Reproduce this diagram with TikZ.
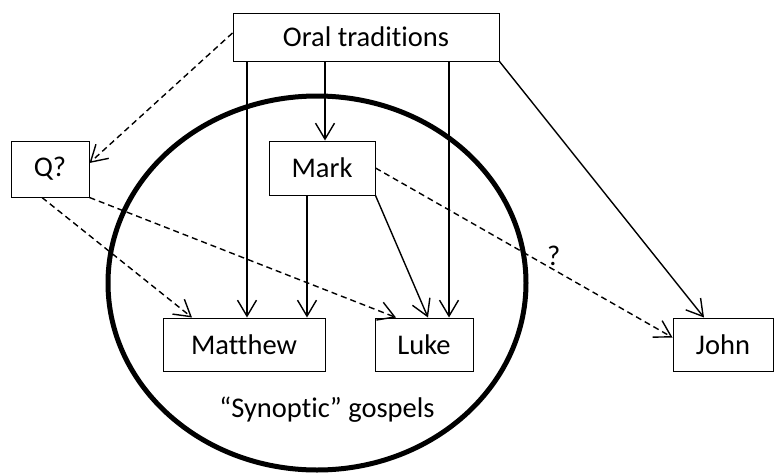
\documentclass[tikz,border=0pt]{standalone}
\usepackage{fontspec}
\setmainfont{Carlito}[Ligatures=NoCommon]
\usetikzlibrary{arrows.meta}
\def\ring{(317,283) ellipse [x radius=209, y radius=187]}

\begin{document}
\begin{tikzpicture}[x=1pt, y=-1pt, line width=1.4pt,
	box/.style={draw, line width=1pt, inner sep=0pt, font=\fontsize{28.5}{34}\selectfont},
	arr/.style={-{Straight Barb[length=16pt, width=19pt]}},
	guess/.style={arr, dash pattern=on 6pt off 4pt}]
	\useasboundingbox (0,0) rectangle (774,472);
	\draw [line width=5pt] \ring;
	\node [box, minimum width=266, minimum height=48] (oral) at (366,37) {Oral traditions};
	\node [box, minimum width=78, minimum height=56] (q) at (50,169) {Q?};
	\node [box, minimum width=106, minimum height=54] (mark) at (322,168) {Mark};
	\node [box, minimum width=162, minimum height=53] (matthew) at (244,344.5) {Matthew};
	\node [box, minimum width=98, minimum height=53] (luke) at (424,344.5) {Luke};
	\node [box, minimum width=100, minimum height=53] (john) at (723,344.5) {John};
	\node [font=\fontsize{28.5}{34}\selectfont] (synoptic) at (327,410) {“Synoptic” gospels};
%	oral traditions
	\draw [guess] ([yshift=4]oral.west) -- ([yshift=6]q.east);
	\draw [arr] ([xshift=3]matthew.north |- oral.south) -- ([xshift=3]matthew.north);
	\draw [arr] ([xshift=3]mark.north |- oral.south) -- ([xshift=3]mark.north);
	\draw [arr] ([xshift=25]luke.north |- oral.south) -- ([xshift=25]luke.north);
	\draw [arr] (oral.south east) -- ([xshift=-19]john.north);
%	mark
	\draw [arr] ([xshift=63]matthew.north |- mark.south) -- ([xshift=63]matthew.north);
	\draw [arr] (mark.south east) -- ([xshift=4]luke.north);
	\draw [guess] (mark.east) -- node [pos=0.6, above, font=\fontsize{28.5}{34}\selectfont] {?} ([yshift=7]john.west);
%	q
	\draw [guess] ([xshift=-8]q.south) -- ([xshift=-52]matthew.north);
	\draw [guess] (q.south east) -- ([xshift=-28]luke.north);
\end{tikzpicture}
\end{document}
